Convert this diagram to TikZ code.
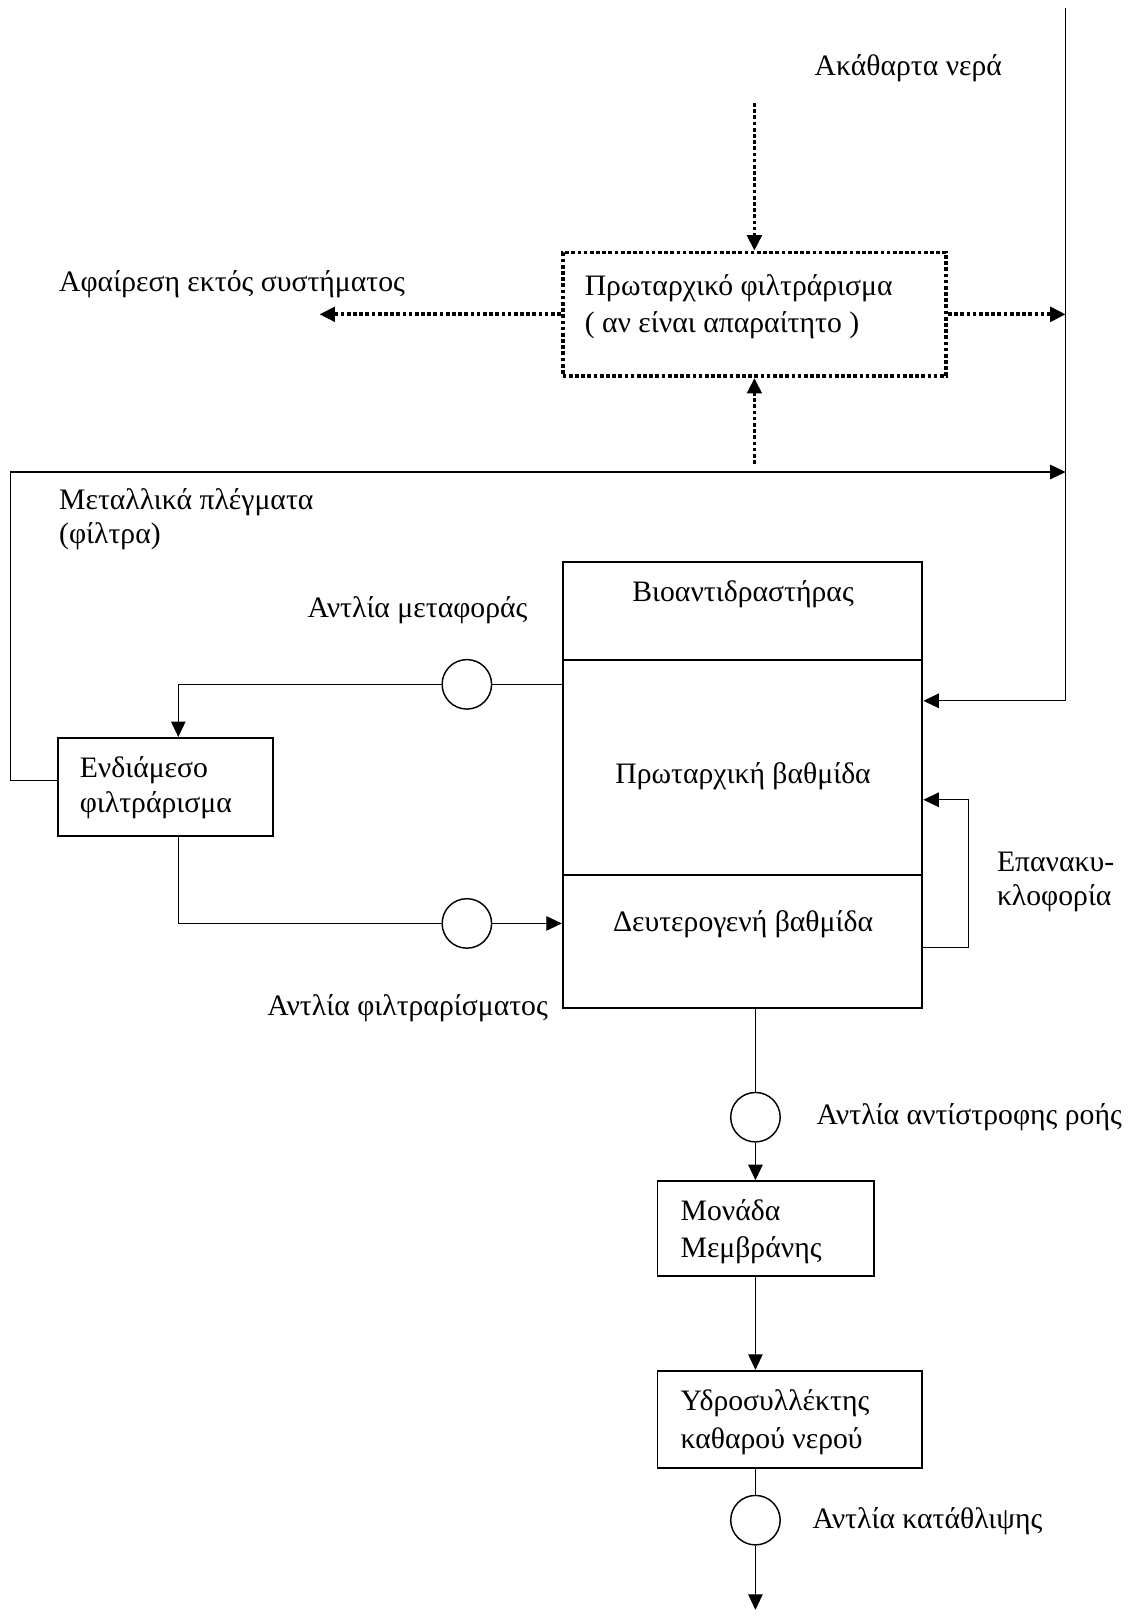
\documentclass[tikz,border=0pt]{standalone}
\usepackage{fontspec}
\setmainfont{Liberation Serif}
\usetikzlibrary{arrows.meta}
\begin{document}
\begin{tikzpicture}[x=0.5pt,y=-0.5pt,
  conn/.style={line width=0.55pt},
  arr/.style={conn,-{Triangle[length=7.5pt,width=7pt]}},
  dotline/.style={line width=1.8pt, dash pattern=on 1.8pt off 1.2pt},
  darr/.style={dotline,-{Triangle[length=7.5pt,width=7pt]}},
  box/.style={draw, line width=0.9pt, inner sep=0pt},
  pump/.style={draw, circle, line width=0.7pt, minimum size=24pt, inner sep=0pt},
  lbl/.style={font=\fontsize{14.4}{16.5}\selectfont, inner sep=0pt, anchor=base west, align=left},
  clbl/.style={lbl, anchor=base, align=center}]
\useasboundingbox (0,0) rectangle (1094,1568);
\fill[white] (0,0) rectangle (1094,1568);

% boxes
\node[box, dotline, minimum width=186pt, minimum height=60pt] (pre) at (732,305) {};
\node[box, minimum width=174.5pt, minimum height=216.5pt] (bio) at (720.5,761.5) {};
\draw[line width=0.9pt] (546,640) -- (895,640);
\draw[line width=0.9pt] (546,849) -- (895,849);
\node[box, minimum width=104.5pt, minimum height=47.5pt] (ind) at (160.5,763.5) {};
\node[box, minimum width=105pt, minimum height=46pt] (mem) at (743,1192) {};
\node[box, minimum width=128.5pt, minimum height=47pt] (tank) at (766.5,1377) {};

% pumps
\node[pump] (p1) at (453,664) {};
\node[pump] (p2) at (453,896) {};
\node[pump] (p3) at (733,1084) {};
\node[pump] (p4) at (733,1475) {};

% coordinates
\coordinate (rtop) at (1034,8);
\coordinate (rbot) at (1034,680);
\coordinate (inTop) at (732,100);
\coordinate (outL) at (310,305);
\coordinate (loopA) at (10,757);
\coordinate (loopB) at (10,458);
\coordinate (upS) at (732,450);
\coordinate (c1) at (173,664);
\coordinate (c2) at (173,896);
\coordinate (rc) at (940,919);
\coordinate (rc2) at (940,776);
\coordinate (outB) at (733,1562);

% connectors
\draw[conn] (rtop) -- (rbot);
\draw[arr] (rbot) -- (bio.east |- rbot);
\draw[darr] (inTop) -- (pre.north);
\draw[darr] (pre.west) -- (outL);
\draw[darr] (pre.east) -- (pre.east -| rtop);
\draw[darr] (upS) -- (pre.south);
\draw[arr] (ind.west |- loopA) -- (loopA) -- (loopB) -- (loopB -| rtop);
\draw[conn] (bio.west |- p1) -- (p1);
\draw[arr] (p1) -- (c1) -- (c1 |- ind.north);
\draw[conn] (c2 |- ind.south) -- (c2) -- (p2);
\draw[arr] (p2) -- (bio.west |- p2);
\draw[arr] (bio.east |- rc) -- (rc) -- (rc2) -- (bio.east |- rc2);
\draw[conn] (p3 |- bio.south) -- (p3);
\draw[arr] (p3) -- (p3 |- mem.north);
\draw[arr] (p3 |- mem.south) -- (p3 |- tank.north);
\draw[conn] (p3 |- tank.south) -- (p4);
\draw[arr] (p4) -- (outB);

% texts (multi-line nodes are anchored at the baseline of their last line)
\node[lbl] (t1) at (790,73) {Ακάθαρτα νερά};
\node[lbl] (t2) at (57,283) {Αφαίρεση εκτός συστήματος};
\node[lbl] (t3) at (567,323) {Πρωταρχικό φιλτράρισμα\\[1.5pt]( αν είναι απαραίτητο )};
\node[lbl] (t4) at (57,527) {Μεταλλικά πλέγματα\\(φίλτρα)};
\node[lbl] (t5) at (298,599) {Αντλία μεταφοράς};
\node[clbl] (t6) at (721,584) {Βιοαντιδραστήρας};
\node[lbl] (t7) at (77,788) {Ενδιάμεσο\\[0.5pt]φιλτράρισμα};
\node[clbl] (t8) at (721,760) {Πρωταρχική βαθμίδα};
\node[lbl] (t9) at (967,879) {Επανακυ-\\κλοφορία};
\node[clbl] (t10) at (721,904) {Δευτερογενή βαθμίδα};
\node[lbl] (t11) at (259,985) {Αντλία φιλτραρίσματος};
\node[lbl] (t12) at (792,1091) {Αντλία αντίστροφης ροής};
\node[lbl] (t13) at (660,1220) {Μονάδα\\[1.5pt]Μεμβράνης};
\node[lbl] (t14) at (660,1405) {Υδροσυλλέκτης\\[1.5pt]καθαρού νερού};
\node[lbl] (t15) at (788,1483) {Αντλία κατάθλιψης};
\end{tikzpicture}
\end{document}
